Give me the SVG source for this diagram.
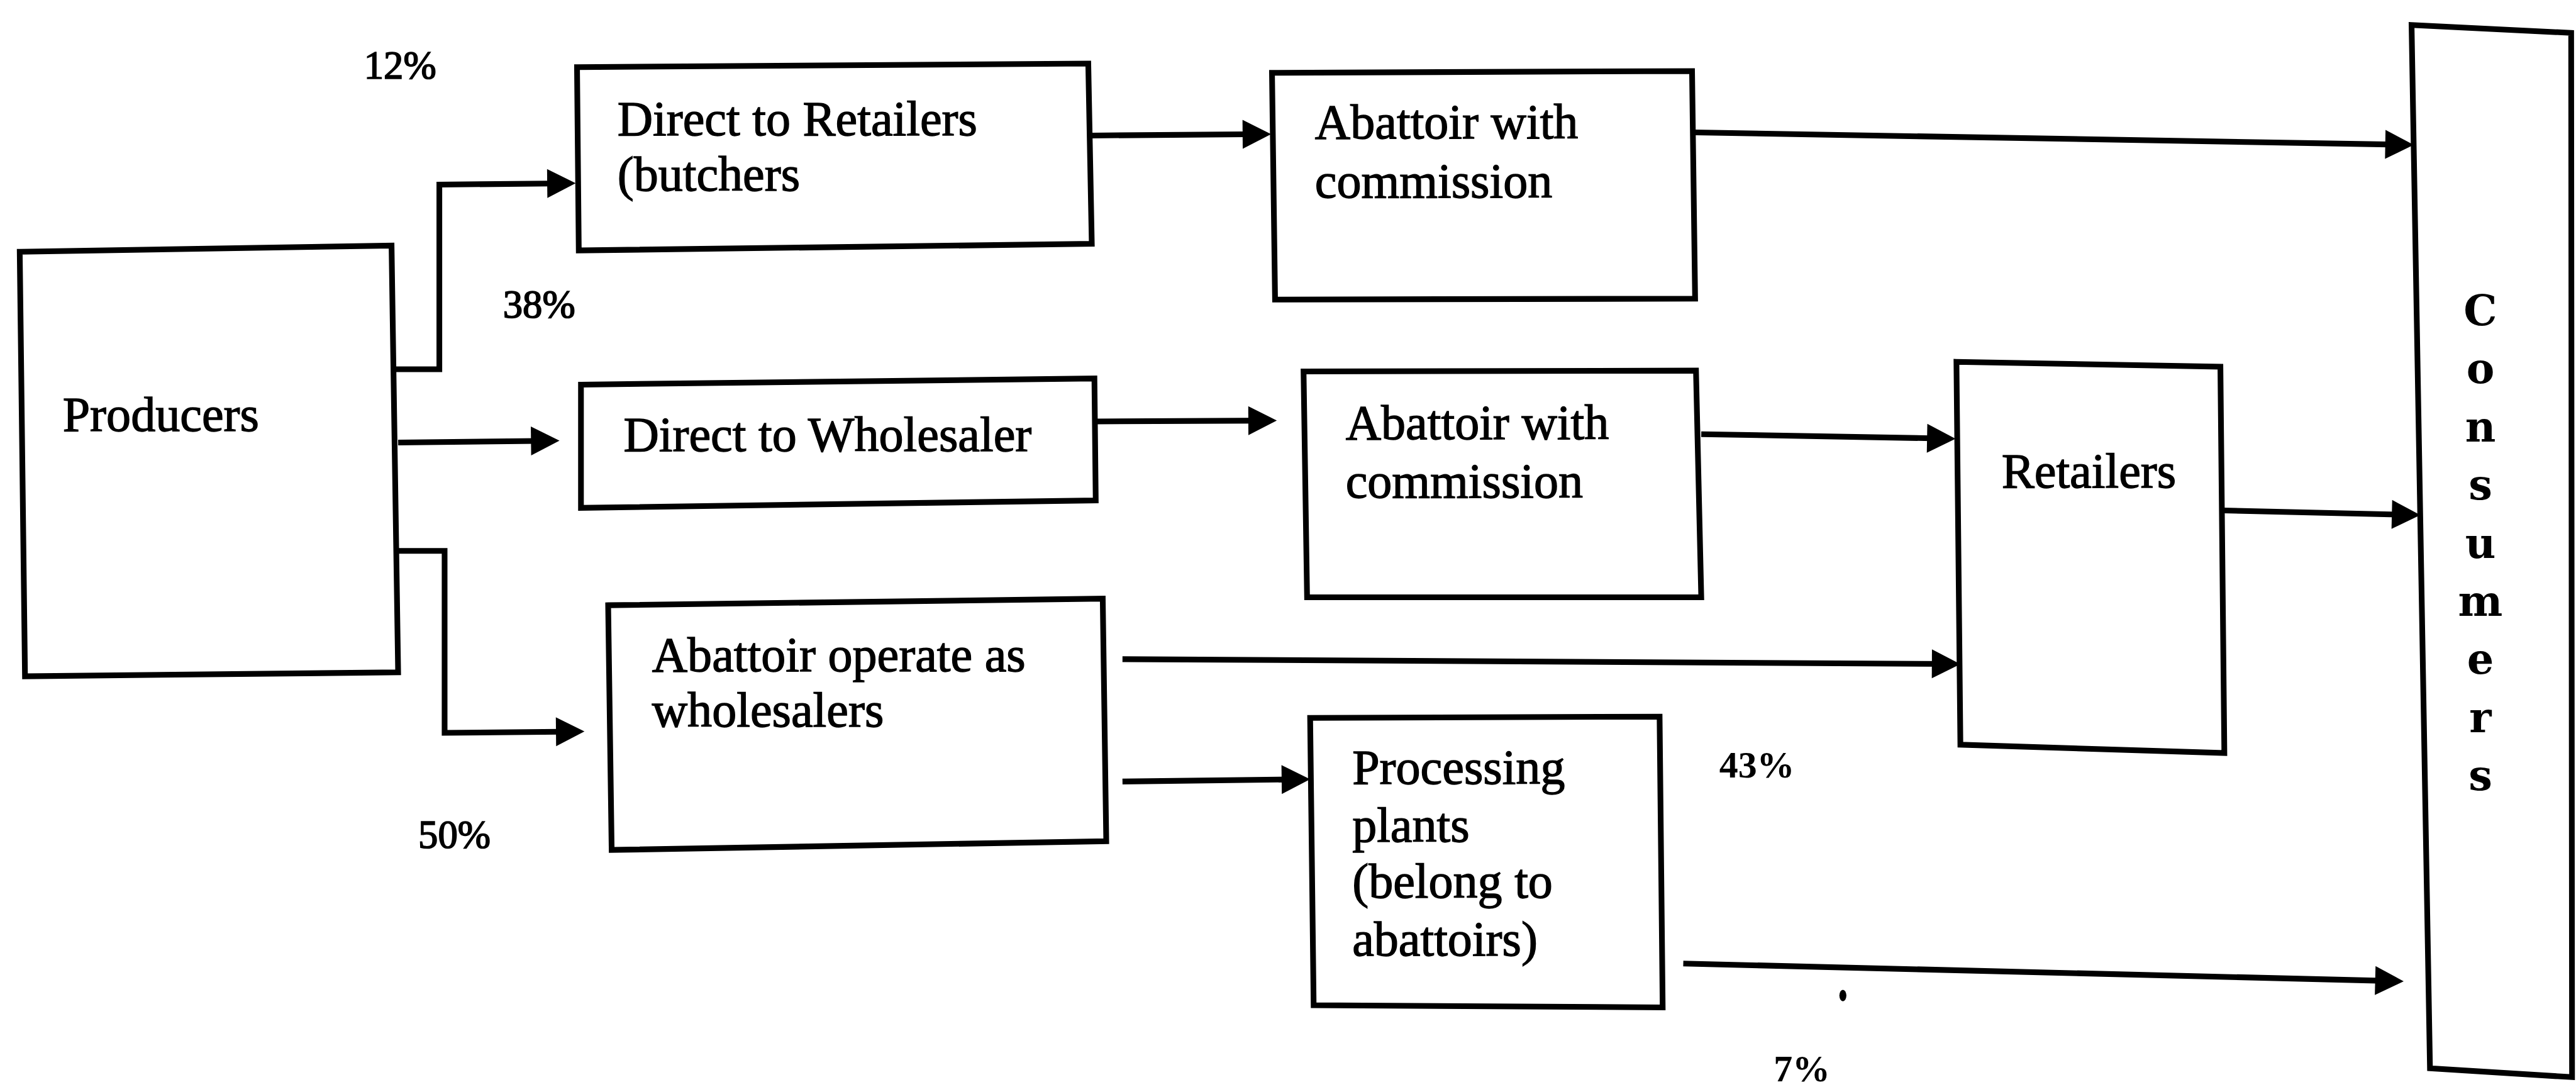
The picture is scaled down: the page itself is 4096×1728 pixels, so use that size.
<svg xmlns="http://www.w3.org/2000/svg" width="4096" height="1728" viewBox="0 0 4096 1728">
  <style>
    .box { fill: #ffffff; stroke: #000000; stroke-width: 13; stroke-linejoin: miter; }
    .lbl { font-family: "Liberation Serif", "Times New Roman", serif; font-size: 112px; fill: #000000; stroke: #000000; stroke-width: 2; }
    .pct { font-family: "Liberation Serif", "Times New Roman", serif; font-size: 90px; fill: #000000; stroke: #000000; stroke-width: 2.5; }
    .pctb { font-family: "Liberation Serif", "Times New Roman", serif; font-size: 86px; font-weight: bold; fill: #000000; }
    .vert { font-family: "DejaVu Serif", "Liberation Serif", serif; font-size: 96px; font-weight: bold; fill: #000000; text-anchor: middle; }
    .conn { fill: none; stroke: #000000; stroke-width: 13; stroke-linejoin: miter; marker-end: url(#arrow); }
  </style>
  <defs>
    <!-- filled triangular arrowhead; the line stops 20 units short of the tip -->
    <marker id="arrow" markerUnits="userSpaceOnUse" markerWidth="70" markerHeight="70" refX="45" refY="33" orient="auto" overflow="visible">
      <path d="M0,0 L65,33 L0,66 Z" fill="#000000"/>
    </marker>
  </defs>
  <rect x="0" y="0" width="4096" height="1728" fill="#ffffff"/>

  <!-- drawing laid out in 5875 x 2479 units, scaled to the window -->
  <g transform="scale(0.69719)">

    <g id="connectors">
      <polyline class="conn" points="902,842 1002,842 1002,421 1293,418"/>
      <line class="conn" x1="908" y1="1009" x2="1256" y2="1005"/>
      <polyline class="conn" points="904,1256 1014,1256 1014,1671 1313,1668"/>
      <line class="conn" x1="2490" y1="309" x2="2879" y2="306"/>
      <line class="conn" x1="3866" y1="302" x2="5485" y2="330"/>
      <line class="conn" x1="2499" y1="961" x2="2892" y2="959"/>
      <line class="conn" x1="3880" y1="990" x2="4440" y2="1000"/>
      <line class="conn" x1="2560" y1="1503" x2="4451" y2="1514"/>
      <line class="conn" x1="2560" y1="1782" x2="2968" y2="1777"/>
      <line class="conn" x1="5073" y1="1164" x2="5500" y2="1174"/>
      <line class="conn" x1="3839" y1="2197" x2="5462" y2="2237"/>
    </g>

    <g id="producers">
      <polygon class="box" points="45,574 893,560 908,1533 57,1542"/>
      <text class="lbl" x="143" y="982">Producers</text>
    </g>

    <g id="direct-retailers">
      <polygon class="box" points="1316,153 2482,145 2490,556 1320,571"/>
      <text class="lbl" x="1408" y="309">Direct to Retailers</text>
      <text class="lbl" x="1408" y="434">(butchers</text>
    </g>

    <g id="direct-wholesaler">
      <polygon class="box" points="1325,877 2496,863 2499,1141 1325,1158"/>
      <text class="lbl" x="1422" y="1028">Direct to Wholesaler</text>
    </g>

    <g id="abattoir-wholesalers">
      <polygon class="box" points="1387,1380 2515,1365 2523,1918 1395,1938"/>
      <text class="lbl" x="1487" y="1530">Abattoir operate as</text>
      <text class="lbl" x="1487" y="1657">wholesalers</text>
    </g>

    <g id="abattoir-commission-1">
      <polygon class="box" points="2901,166 3859,162 3866,681 2908,683"/>
      <text class="lbl" x="2999" y="315">Abattoir with</text>
      <text class="lbl" x="2999" y="451">commission</text>
    </g>

    <g id="abattoir-commission-2">
      <polygon class="box" points="2973,847 3868,845 3880,1362 2981,1362"/>
      <text class="lbl" x="3069" y="1001">Abattoir with</text>
      <text class="lbl" x="3069" y="1135">commission</text>
    </g>

    <g id="processing-plants">
      <polygon class="box" points="2988,1637 3785,1634 3792,2297 2996,2292"/>
      <text class="lbl" x="3084" y="1787">Processing</text>
      <text class="lbl" x="3084" y="1919">plants</text>
      <text class="lbl" x="3084" y="2047">(belong to</text>
      <text class="lbl" x="3084" y="2179">abattoirs)</text>
    </g>

    <g id="retailers">
      <polygon class="box" points="4462,825 5064,836 5073,1717 4471,1698"/>
      <text class="lbl" x="4565" y="1112">Retailers</text>
    </g>

    <g id="consumers">
      <polygon class="box" points="5500,57 5864,75 5866,2456 5542,2436"/>
      <text class="vert" x="5657" y="742">C</text>
      <text class="vert" x="5657" y="874">o</text>
      <text class="vert" x="5657" y="1007">n</text>
      <text class="vert" x="5657" y="1139">s</text>
      <text class="vert" x="5657" y="1272">u</text>
      <text class="vert" x="5657" y="1404">m</text>
      <text class="vert" x="5657" y="1536">e</text>
      <text class="vert" x="5657" y="1669">r</text>
      <text class="vert" x="5657" y="1801">s</text>
    </g>

    <g id="shares">
      <text class="pct" x="830" y="179">12%</text>
      <text class="pct" x="1147" y="724">38%</text>
      <text class="pct" x="954" y="1934">50%</text>
      <text class="pctb" x="3921" y="1773">43%</text>
      <text class="pctb" x="4045" y="2466">7%</text>
    </g>

    <ellipse cx="4203" cy="2270" rx="8" ry="13" fill="#000000"/>
  </g>
</svg>
